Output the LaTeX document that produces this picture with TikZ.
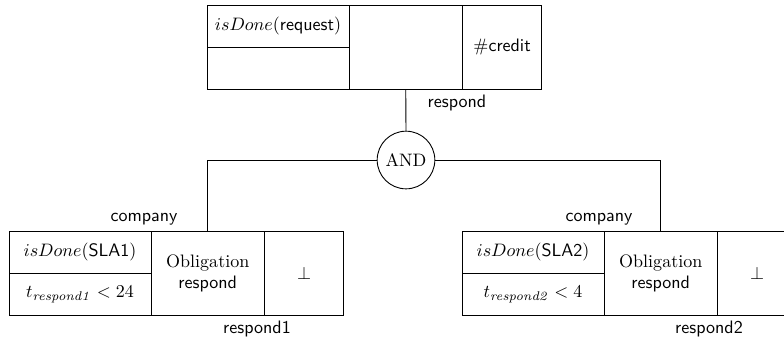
\documentclass[tikz,border=0pt]{standalone}
\usepackage{amsmath}
\usetikzlibrary{positioning}

\begin{document}
\begin{tikzpicture}[
  x=0.555pt, y=-0.555pt,
  cell/.style = {draw, line width=0.5pt, outer sep=0pt, inner sep=0pt, minimum width=78.8pt, minimum height=23.5pt, align=center},
  body/.style = {draw, line width=0.5pt, outer sep=0pt, inner sep=0pt, minimum width=63pt, minimum height=47pt, align=center},
  tail/.style = {draw, line width=0.5pt, outer sep=0pt, inner sep=0pt, minimum width=44pt, minimum height=47pt, align=center},
  gate/.style = {draw, circle, line width=0.5pt, outer sep=0pt, inner sep=0pt, minimum size=32pt},
  wire/.style = {line width=0.5pt},
  tag/.style = {font=\sffamily, anchor=base, inner sep=0pt}
]
\useasboundingbox (0,0) rectangle (784,341);

% Top contract: request
\node[cell, anchor=north west] (reqcond) at (207,5) {$isDone(\textsf{request})$};
\node[cell, below=0pt of reqcond] (reqtime) {};
\node[body, anchor=north west] (reqbody) at (reqcond.north east) {};
\node[tail, right=0pt of reqbody] (reqtail) {$\#$\textsf{credit}};

% AND gate
\node[gate] (and) at (406,160) {AND};
\draw[wire] (reqbody.south) -- (and.north);
\node[tag] (respondtag) at (457,107) {respond};

% Left contract: SLA1
\node[cell, anchor=north west] (slaonecond) at (9,231) {$isDone(\textsf{SLA1})$};
\node[cell, below=0pt of slaonecond] (slaonetime) {$t_{\mathit{respond1}} < 24$};
\node[body, anchor=north west] (slaonebody) at (slaonecond.north east) {Obligation\\\textsf{respond}};
\node[tail, right=0pt of slaonebody] (slaonetail) {$\bot$};
\node[tag] (companyone) at (144,221) {company};
\node[tag] (respondone) at (257,333) {respond1};

% Right contract: SLA2
\node[cell, anchor=north west] (slatwocond) at (462,231) {$isDone(\textsf{SLA2})$};
\node[cell, below=0pt of slatwocond] (slatwotime) {$t_{\mathit{respond2}} < 4$};
\node[body, anchor=north west] (slatwobody) at (slatwocond.north east) {Obligation\\\textsf{respond}};
\node[tail, right=0pt of slatwobody] (slatwotail) {$\bot$};
\node[tag] (companytwo) at (599,221) {company};
\node[tag] (respondtwo) at (709,333) {respond2};

% Branches
\draw[wire] (and.west) -| (slaonebody.north);
\draw[wire] (and.east) -| (slatwobody.north);

\end{tikzpicture}
\end{document}
